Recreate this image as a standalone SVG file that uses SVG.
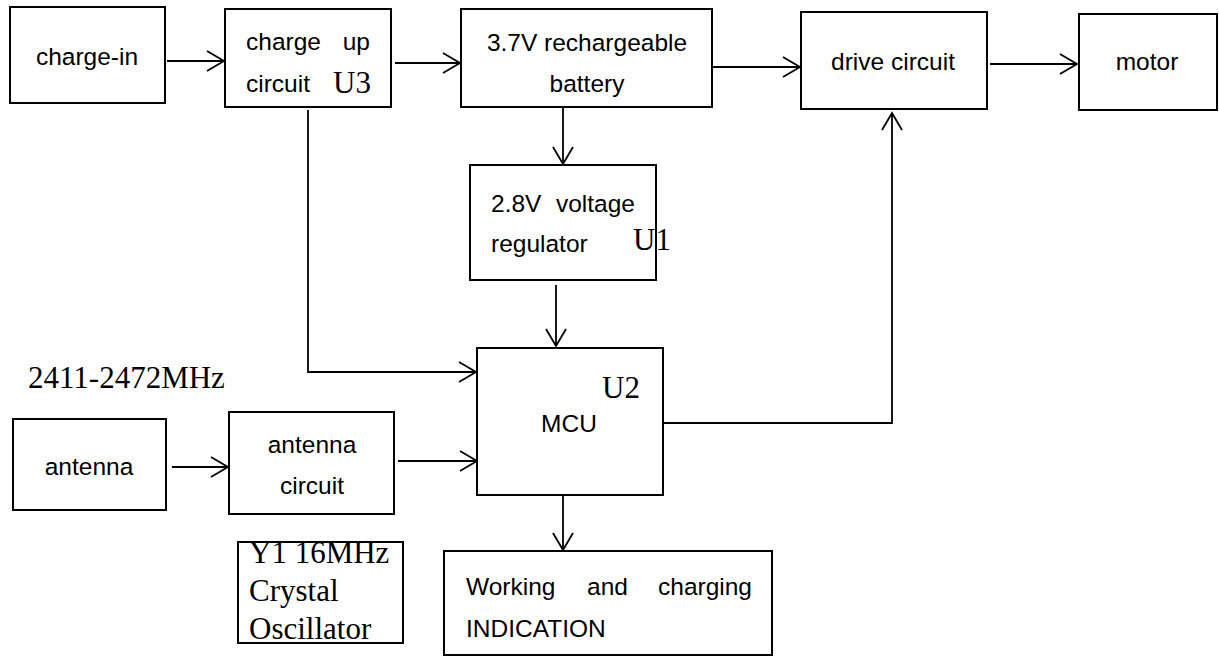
<svg xmlns="http://www.w3.org/2000/svg" width="1219" height="660" viewBox="0 0 1219 660">
<style>
.box{fill:#fff;stroke:#000;stroke-width:2}
.t{font-family:"Liberation Sans",Arial,sans-serif;font-size:24.5px;fill:#000}
.c{text-anchor:middle}
.s{font-family:"Liberation Serif","Times New Roman",serif;font-size:31px;fill:#000}
.ln{fill:none;stroke:#000;stroke-width:1.8}
</style>
<defs>
<marker id="arr" viewBox="-20 -12 22 24" refX="0" refY="0" markerWidth="22" markerHeight="24" markerUnits="userSpaceOnUse" orient="auto">
<path d="M-17,-10 L0,0 L-17,10" fill="none" stroke="#000" stroke-width="1.8"/>
</marker>
</defs>
<rect width="1219" height="660" fill="#fff"/>
<g id="connectors">
<path class="ln" d="M167,61 H224" marker-end="url(#arr)"/>
<path class="ln" d="M395,63 H460" marker-end="url(#arr)"/>
<path class="ln" d="M712,67 H800" marker-end="url(#arr)"/>
<path class="ln" d="M990,64 H1077" marker-end="url(#arr)"/>
<path class="ln" d="M563,107 V164" marker-end="url(#arr)"/>
<path class="ln" d="M556,285 V346" marker-end="url(#arr)"/>
<path class="ln" d="M308,110 V372 H476" marker-end="url(#arr)"/>
<path class="ln" d="M172,467 H228" marker-end="url(#arr)"/>
<path class="ln" d="M398,461 H477" marker-end="url(#arr)"/>
<path class="ln" d="M663,423 H892 V113" marker-end="url(#arr)"/>
<path class="ln" d="M563,495 V550" marker-end="url(#arr)"/>
</g>
<g id="charge-in">
<rect class="box" x="10" y="7" width="155" height="96"/>
<text class="t c" x="87" y="65">charge-in</text>
</g>
<g id="charge-up">
<rect class="box" x="225" y="9" width="166" height="98"/>
<text class="t" x="246" y="50">charge</text>
<text class="t" x="370" y="50" text-anchor="end">up</text>
<text class="t" x="246" y="92">circuit</text>
<text class="s" x="333" y="93">U3</text>
</g>
<g id="battery">
<rect class="box" x="461" y="9" width="251" height="98"/>
<text class="t c" x="587" y="51">3.7V rechargeable</text>
<text class="t c" x="587" y="92">battery</text>
</g>
<g id="drive-circuit">
<rect class="box" x="801" y="12" width="186" height="97"/>
<text class="t c" x="893" y="70">drive circuit</text>
</g>
<g id="motor">
<rect class="box" x="1079" y="14" width="138" height="96"/>
<text class="t c" x="1147" y="70">motor</text>
</g>
<g id="regulator">
<rect class="box" x="470" y="165" width="186" height="115"/>
<text class="t" x="491" y="212">2.8V</text>
<text class="t" x="635" y="212" text-anchor="end">voltage</text>
<text class="t" x="491" y="252">regulator</text>
<text class="s" x="633" y="250">U1</text>
</g>
<g id="mcu">
<rect class="box" x="477" y="348" width="186" height="147"/>
<text class="s" x="602" y="398">U2</text>
<text class="t c" x="569" y="432">MCU</text>
</g>
<g id="freq-label">
<text class="s" x="28" y="388">2411-2472MHz</text>
</g>
<g id="antenna">
<rect class="box" x="13" y="419" width="153" height="91"/>
<text class="t c" x="89" y="475">antenna</text>
</g>
<g id="antenna-circuit">
<rect class="box" x="229" y="412" width="165" height="102"/>
<text class="t c" x="312" y="453">antenna</text>
<text class="t c" x="312" y="494">circuit</text>
</g>
<g id="crystal">
<text class="s" x="249" y="563">Y1 16MHz</text>
<text class="s" x="249" y="601">Crystal</text>
<text class="s" x="249" y="639">Oscillator</text>
<rect x="238" y="542" width="165" height="101" fill="none" stroke="#000" stroke-width="2"/>
</g>
<g id="indication">
<rect class="box" x="444" y="551" width="328" height="104"/>
<text class="t" x="466" y="595">Working</text>
<text class="t" x="587" y="595">and</text>
<text class="t" x="752" y="595" text-anchor="end">charging</text>
<text class="t" x="466" y="637">INDICATION</text>
</g>
</svg>
